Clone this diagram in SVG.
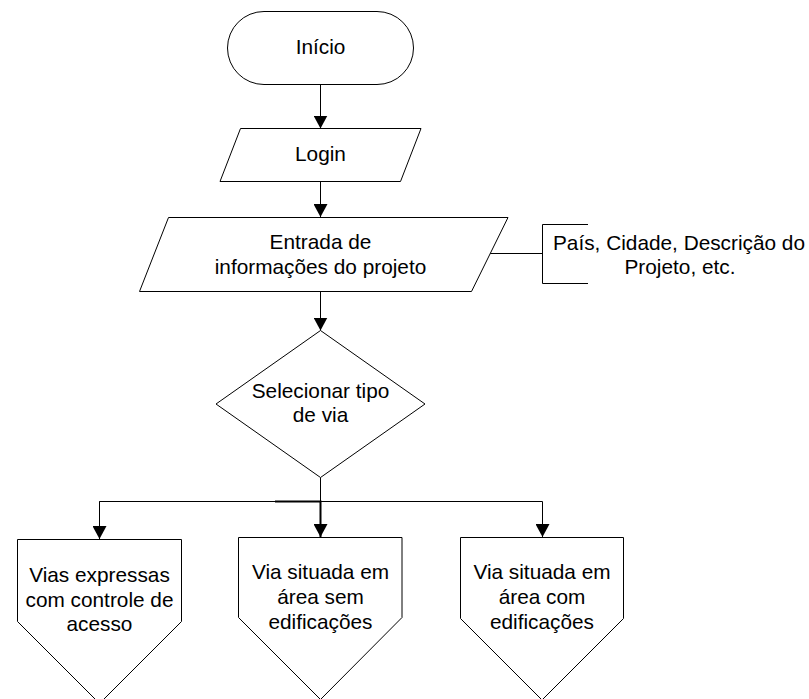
<svg xmlns="http://www.w3.org/2000/svg" width="809" height="699" viewBox="0 0 809 699">
  <style>
    .shape { fill: #ffffff; stroke: #000000; stroke-width: 1; }
    .edge { fill: none; stroke: #000000; stroke-width: 1; }
    .label { font-family: "Liberation Sans", Arial, sans-serif; font-size: 20.8px; fill: #000000; text-anchor: middle; }
  </style>
  <defs>
    <marker id="arrow" markerUnits="userSpaceOnUse" viewBox="0 0 13 14" refX="13" refY="7" markerWidth="13" markerHeight="14" orient="auto">
      <path d="M0,0 L13,7 L0,14 z" fill="#000000"/>
    </marker>
  </defs>
  <rect width="809" height="699" fill="#ffffff"/>

  <!-- connectors -->
  <g id="connectors">
    <path class="edge" d="M320.5,84 V128.5" marker-end="url(#arrow)"/>
    <path class="edge" d="M320.5,181 V217" marker-end="url(#arrow)"/>
    <path class="edge" d="M320.5,291 V330.5" marker-end="url(#arrow)"/>
    <path class="edge" d="M320.5,477.5 V501"/>
    <path class="edge" d="M99.5,539 V501.5 H542.5 V537" marker-end="url(#arrow)"/>
    <path class="edge" d="M99.5,501.5 V539" marker-end="url(#arrow)"/>
    <path class="edge" style="stroke-width:2" d="M275,501.5 H320.5 V537" marker-end="url(#arrow)"/>
    <!-- annotation bracket -->
    <path class="edge" d="M490,253.5 H542.5"/>
    <path class="edge" d="M588,224.5 H542.5 V283.5 H588"/>
  </g>

  <g id="inicio">
    <rect class="shape" x="227.5" y="11.5" width="186" height="73" rx="36.5" ry="36.5"/>
    <text class="label" x="320.5" y="54">Início</text>
  </g>

  <g id="login">
    <polygon class="shape" points="240.5,128.5 421,128.5 400.5,181.5 220,181.5"/>
    <text class="label" x="320.5" y="161">Login</text>
  </g>

  <g id="entrada">
    <polygon class="shape" points="168.5,217.5 508,217.5 471.5,291.5 139.5,291.5"/>
    <text class="label" x="320.5" y="248.5">Entrada de</text>
    <text class="label" x="320.5" y="273.5">informações do projeto</text>
  </g>

  <g id="nota">
    <text class="label" x="679" y="249.5">País, Cidade, Descrição do</text>
    <text class="label" x="680" y="273.5">Projeto, etc.</text>
  </g>

  <g id="selecionar">
    <polygon class="shape" points="320.5,330.5 425,404 320.5,477.5 216,404"/>
    <text class="label" x="320.5" y="397.5">Selecionar tipo</text>
    <text class="label" x="320.5" y="422">de via</text>
  </g>

  <g id="vias-expressas">
    <polygon class="shape" points="17.5,539.5 181.5,539.5 181.5,621.5 99.5,703.5 17.5,621.5"/>
    <text class="label" x="99.5" y="582">Vias expressas</text>
    <text class="label" x="99.5" y="606.5">com controle de</text>
    <text class="label" x="99.5" y="630.5">acesso</text>
  </g>

  <g id="via-sem-edificacoes">
    <polygon class="shape" points="238.5,537.5 402,537.5 402,617.5 320.5,699.5 238.5,617.5"/>
    <text class="label" x="320.5" y="578.5">Via situada em</text>
    <text class="label" x="320.5" y="603.5">área sem</text>
    <text class="label" x="320.5" y="628.5">edificações</text>
  </g>

  <g id="via-com-edificacoes">
    <polygon class="shape" points="460.5,537.5 623.5,537.5 623.5,618.5 542,700 460.5,618.5"/>
    <text class="label" x="542" y="579">Via situada em</text>
    <text class="label" x="542" y="603.5">área com</text>
    <text class="label" x="542" y="628.5">edificações</text>
  </g>
</svg>
